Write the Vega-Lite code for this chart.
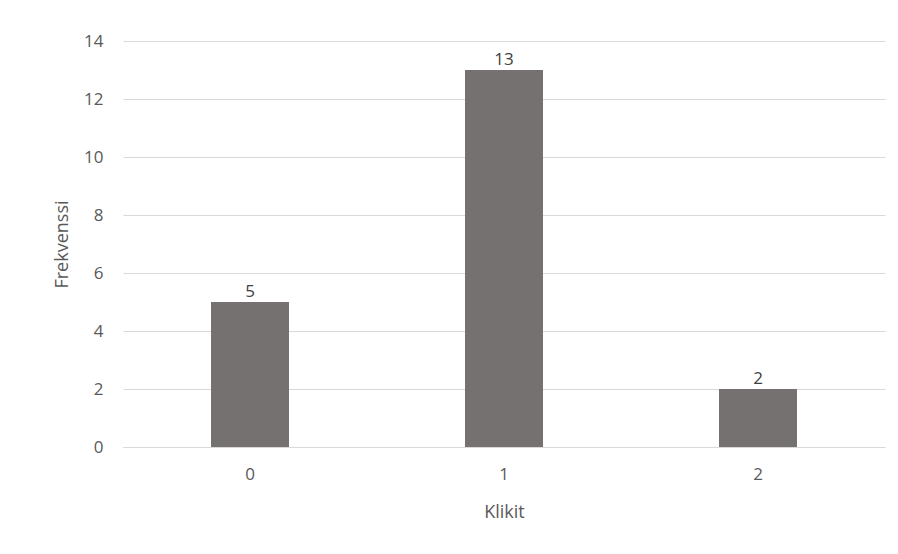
{
  "$schema": "https://vega.github.io/schema/vega-lite/v6.json",
  "width": 762,
  "height": 406,
  "autosize": {"type": "none"},
  "padding": {"left": 123, "top": 41, "right": 13, "bottom": 107},
  "background": "white",
  "config": {"view": {"stroke": null}, "font": "Open Sans"},
  "data": {"values": [
    {"Klikit": "0", "Frekvenssi": 5},
    {"Klikit": "1", "Frekvenssi": 13},
    {"Klikit": "2", "Frekvenssi": 2}
  ]},
  "encoding": {
    "x": {
      "field": "Klikit", "type": "nominal",
      "scale": {"paddingInner": 0.693, "paddingOuter": 0.3465},
      "axis": {
        "title": "Klikit", "labelAngle": 0, "labelFontSize": 17, "labelColor": "#595959",
        "titleFontSize": 18, "titleFontWeight": "normal", "titleColor": "#595959",
        "ticks": false, "domainColor": "#d9d9d9", "labelPadding": 19, "titlePadding": 21
      }
    },
    "y": {
      "field": "Frekvenssi", "type": "quantitative",
      "scale": {"domain": [0, 14]},
      "axis": {
        "title": "Frekvenssi", "values": [0, 2, 4, 6, 8, 10, 12, 14], "domain": false, "ticks": false,
        "labelFontSize": 17, "labelColor": "#595959", "labelPadding": 20,
        "titleFontSize": 18, "titleFontWeight": "normal", "titleColor": "#595959", "titlePadding": 12,
        "gridColor": "#d9d9d9"
      }
    }
  },
  "layer": [
    {"mark": {"type": "bar", "color": "#767171"}},
    {"mark": {"type": "text", "baseline": "bottom", "dy": -1, "fontSize": 17, "color": "#404040"},
     "encoding": {"text": {"field": "Frekvenssi", "type": "quantitative"}}}
  ]
}
